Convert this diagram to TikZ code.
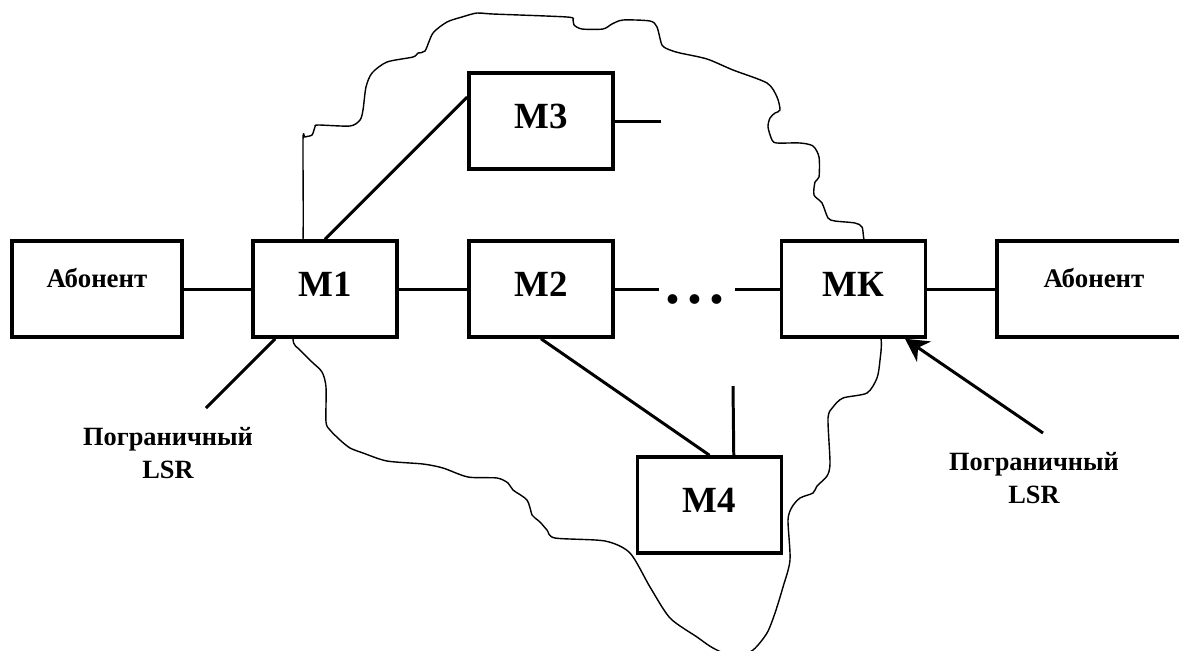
\documentclass[tikz,border=0pt]{standalone}
\usepackage{fontspec}
\setmainfont{Liberation Serif}
\usepackage{tikz}
\usetikzlibrary{positioning,arrows.meta,calc}

\begin{document}
\begin{tikzpicture}[x=0.02cm, y=-0.02cm,
    mplsBox/.style={draw, line width=2pt, fill=white, inner sep=0pt,
      minimum width=2.88cm, minimum height=1.92cm,
      font=\fontsize{21}{22}\selectfont\bfseries,
      text height=14pt, text depth=5.4pt},
    userBox/.style={mplsBox, font=\fontsize{15.3}{16}\selectfont\bfseries,
      text height=10pt, text depth=12.2pt},
    mplsLink/.style={line width=1.7pt},
    lsrText/.style={align=center, inner sep=0pt,
      font=\fontsize{15}{18.5}\selectfont\bfseries}]
  \useasboundingbox (0,0) rectangle (1179,650);

  % domain outline
  \draw[line width=0.8pt] plot[smooth cycle, tension=0.45] coordinates {
    (298,289) (303,240) (303,140) (305,137) (312,135) (315,127) (318,125)
    (350,126) (360,120) (363,110) (366,87) (372,73) (387,62) (413,57)
    (418,53) (425,51) (433,33) (447,22) (462,17) (477,13) (493,14)
    (567,17) (573,20) (574,25) (582,29) (603,29) (612,24) (623,20)
    (650,21) (657,27) (662,45) (670,50) (680,53) (707,59) (733,70)
    (767,83) (777,97) (780,110) (775,113) (770,118) (768,127) (772,140)
    (777,143) (800,143) (813,146) (819,157) (819,177) (815,182) (814,195)
    (822,203) (828,218) (835,221) (855,223) (862,227) (864,240) (872,289)
    (881,338) (880,360) (877,378) (867,393) (843,398) (833,407) (828,418)
    (830,463) (827,476) (817,486) (813,493) (800,498) (792,507) (788,520)
    (790,560) (783,587) (775,613) (767,633) (753,650) (735,657) (713,648)
    (697,637) (670,618) (650,587) (630,553) (605,541) (555,538) (547,530)
    (540,522) (535,518) (532,515) (527,500) (513,490) (508,483) (497,478)
    (468,477) (443,468) (423,464) (387,461) (363,453) (350,448) (340,440)
    (330,430) (326,422) (326,387) (322,372) (312,362) (300,350) (293,339)};

  % nodes
  \node[userBox, minimum width=3.4cm] (abLeft) at (97,289) {Абонент};
  \node[mplsBox] (m1) at (325,289) {М1};
  \node[mplsBox] (m2) at (541,289) {М2};
  \node[mplsBox] (m3) at (541,121) {М3};
  \node[mplsBox] (mk) at (853.5,289) {МК};
  \node[mplsBox] (m4) at (709.5,505) {М4};
  \node[userBox, minimum width=3.88cm] (abRight) at (1094,289) {Абонент};
  \node[anchor=base, inner sep=0pt, font=\fontsize{34}{34}\selectfont\bfseries]
    (dots) at (695,303) {.\kern4pt.\kern4pt.};

  \coordinate (dotsIn) at (659,289);
  \coordinate (dotsOut) at (735,289);
  \coordinate (m3Out) at (661,121);
  \coordinate (m4Up) at (733,386);
  \coordinate (lsrLeftEnd) at (206,408);
  \coordinate (lsrRightEnd) at (1043,433);

  % links
  \draw[mplsLink] (abLeft) -- (m1);
  \draw[mplsLink] (m1) -- (m2);
  \draw[mplsLink] (m2.east) -- (dotsIn);
  \draw[mplsLink] (dotsOut) -- (mk.west);
  \draw[mplsLink] (mk) -- (abRight);
  \draw[mplsLink] (m1.north) -- (m3.162);
  \draw[mplsLink] (m3.east) -- (m3Out);
  \draw[mplsLink] (m2.south) -- (m4.north);
  \draw[mplsLink] (m4Up) -- (m4.64);
  \draw[mplsLink] (m1.225) -- (lsrLeftEnd);
  \draw[mplsLink, -{Stealth[length=13pt, width=14pt, inset=4pt]}]
    (lsrRightEnd) -- (mk.316.5);

  % border LSR labels
  \node[lsrText] (lsrLeft) at (168,453) {Пограничный\\LSR};
  \node[lsrText] (lsrRight) at (1034,478) {Пограничный\\LSR};
\end{tikzpicture}
\end{document}
